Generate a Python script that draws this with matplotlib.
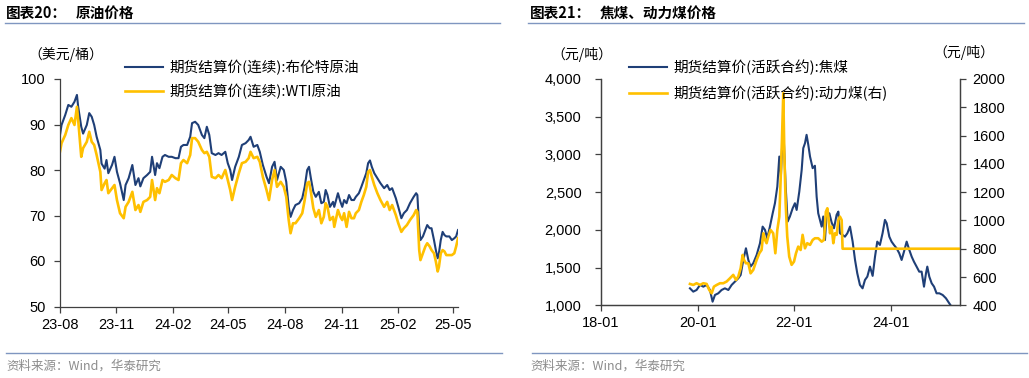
import matplotlib
matplotlib.use("Agg")
import matplotlib.pyplot as plt
import matplotlib.dates as mdates
from matplotlib.ticker import FuncFormatter
import pandas as pd

plt.rcParams['font.family'] = ['Liberation Sans', 'Noto Sans CJK SC', 'DejaVu Sans']
CJK = ['Noto Sans CJK SC', 'Liberation Sans', 'DejaVu Sans']

# ---------------- Left chart: crude oil ----------------
oil_dates = [
    "2023-08-01", "2023-08-04", "2023-08-10", "2023-08-15", "2023-08-20", "2023-08-25", "2023-08-29",
    "2023-08-31", "2023-09-05", "2023-09-08", "2023-09-14", "2023-09-18", "2023-09-22", "2023-09-26",
    "2023-09-30", "2023-10-06", "2023-10-08", "2023-10-13", "2023-10-16", "2023-10-19", "2023-10-25",
    "2023-10-29", "2023-11-02", "2023-11-07", "2023-11-13", "2023-11-16", "2023-11-21", "2023-11-27",
    "2023-12-02", "2023-12-07", "2023-12-10", "2023-12-15", "2023-12-21", "2023-12-26", "2023-12-29",
    "2024-01-03", "2024-01-06", "2024-01-10", "2024-01-15", "2024-01-19", "2024-01-25", "2024-01-30",
    "2024-02-05", "2024-02-10", "2024-02-14", "2024-02-18", "2024-02-24", "2024-02-29",
    "2024-03-03", "2024-03-08", "2024-03-13", "2024-03-19", "2024-03-23", "2024-03-27", "2024-03-31",
    "2024-04-04", "2024-04-10", "2024-04-15", "2024-04-20", "2024-04-26", "2024-04-30", "2024-05-04",
    "2024-05-07", "2024-05-12", "2024-05-18", "2024-05-23", "2024-05-29", "2024-06-03", "2024-06-06",
    "2024-06-11", "2024-06-17", "2024-06-21", "2024-06-26", "2024-07-02", "2024-07-06", "2024-07-11",
    "2024-07-15", "2024-07-19", "2024-07-25", "2024-07-30", "2024-08-03", "2024-08-07", "2024-08-10",
    "2024-08-14", "2024-08-18", "2024-08-24", "2024-08-29", "2024-09-02", "2024-09-06", "2024-09-09",
    "2024-09-12", "2024-09-16", "2024-09-20", "2024-09-25", "2024-09-29", "2024-10-03",
    "2024-10-06", "2024-10-09", "2024-10-13", "2024-10-18", "2024-10-20", "2024-10-26", "2024-10-30",
    "2024-11-02", "2024-11-05", "2024-11-09", "2024-11-13", "2024-11-17", "2024-11-21", "2024-11-24",
    "2024-11-29", "2024-12-03", "2024-12-07", "2024-12-11", "2024-12-14", "2024-12-17", "2024-12-20",
    "2024-12-24", "2024-12-29", "2025-01-03", "2025-01-09", "2025-01-14", "2025-01-18", "2025-01-22",
    "2025-01-28", "2025-02-01", "2025-02-06", "2025-02-10", "2025-02-15", "2025-02-20", "2025-02-26",
    "2025-03-02", "2025-03-04", "2025-03-07", "2025-03-09", "2025-03-13", "2025-03-17", "2025-03-20",
    "2025-03-24", "2025-03-27", "2025-03-31", "2025-04-03", "2025-04-06", "2025-04-08", "2025-04-11",
    "2025-04-14", "2025-04-17", "2025-04-20", "2025-04-25", "2025-04-29", "2025-05-03", "2025-05-06",
    "2025-05-09",
]
brent = [
    87.3, 89.9, 92.1, 94.3, 93.9, 95.0, 96.5,
    93.9, 89.5, 88.0, 89.9, 92.5, 91.7, 89.9,
    87.3, 84.4, 81.4, 80.3, 82.2, 79.3, 81.1,
    82.9, 79.6, 77.1, 73.4, 76.7, 78.2, 81.1,
    76.7, 78.2, 76.4, 78.2, 78.9, 79.6, 82.9,
    78.9, 81.5, 80.4, 82.9, 83.3, 82.9, 82.9,
    82.6, 82.6, 85.1, 85.5, 85.5, 87.3,
    90.3, 90.6, 89.9, 87.7, 87.0, 89.5, 87.7,
    83.7, 83.3, 83.7, 83.3, 84.0, 81.5, 80.0,
    77.8, 80.7, 82.9, 85.5, 85.9, 86.6, 87.3,
    85.1, 85.5, 84.0, 81.1, 78.5, 77.1, 80.7,
    81.8, 77.8, 80.7, 80.0, 77.4, 71.9, 69.7,
    71.2, 72.3, 72.7, 73.8, 76.3, 80.0, 80.7,
    78.2, 75.2, 74.1, 75.2, 72.7, 73.0,
    75.6, 74.5, 71.9, 73.0, 71.9, 74.9, 73.0,
    71.9, 73.4, 72.7, 74.5, 73.4, 73.4, 74.1,
    74.9, 76.3, 77.8, 79.3, 81.5, 82.1, 80.7,
    79.3, 78.2, 77.1, 76.0, 76.7, 75.6, 76.0,
    73.8, 71.9, 69.4, 70.5, 71.2, 72.7, 74.1,
    74.9, 74.5, 67.2, 64.6, 65.4, 66.8, 67.9,
    67.2, 67.2, 64.6, 62.4, 60.6, 61.7, 64.6,
    66.4, 65.7, 65.4, 65.4, 64.6, 65.0, 65.4,
    66.8,
]
wti = [
    83.7, 85.9, 87.7, 89.9, 91.4, 89.9, 93.9,
    91.0, 82.9, 84.8, 86.2, 88.4, 86.2, 85.5,
    83.3, 79.6, 75.6, 77.1, 77.8, 74.9, 76.0,
    76.7, 73.4, 70.5, 69.4, 71.9, 73.0, 75.2,
    71.2, 72.3, 70.8, 73.0, 73.4, 74.1, 77.8,
    73.4, 76.0, 74.9, 77.8, 77.4, 77.8, 78.9,
    78.2, 77.8, 81.5, 82.2, 81.5, 83.3,
    87.0, 87.0, 86.2, 84.4, 83.7, 84.0, 82.9,
    78.5, 78.2, 78.9, 78.2, 80.0, 77.8, 75.6,
    73.4, 76.3, 79.3, 81.5, 81.8, 82.6, 84.0,
    82.6, 82.9, 81.8, 78.5, 75.6, 73.4, 77.8,
    80.0, 76.3, 77.4, 76.3, 74.1, 69.0, 66.1,
    68.3, 68.3, 69.4, 70.5, 73.4, 77.1, 77.4,
    75.2, 71.6, 69.7, 71.2, 68.3, 69.7,
    72.7, 71.9, 69.0, 69.7, 67.5, 71.2, 69.7,
    69.0, 70.5, 67.5, 70.8, 69.4, 69.4, 70.5,
    71.2, 73.0, 74.5, 76.3, 79.6, 80.0, 78.5,
    76.7, 74.9, 73.4, 71.9, 73.0, 71.2, 72.3,
    70.1, 68.3, 66.4, 67.2, 67.9, 69.0, 70.1,
    71.2, 70.8, 62.4, 60.2, 61.7, 63.2, 63.9,
    63.2, 62.4, 61.7, 59.9, 57.7, 58.7, 61.7,
    62.4, 62.1, 61.3, 61.3, 61.3, 61.7, 63.2,
    65.0,
]
oil_xlim = ["2023-08-01", "2025-05-09"]
oil_xticks = ["2023-08-01", "2023-11-01", "2024-02-01", "2024-05-01",
              "2024-08-01", "2024-11-01", "2025-02-01", "2025-05-01"]
oil_xticklabels = ["23-08", "23-11", "24-02", "24-05", "24-08", "24-11", "25-02", "25-05"]
oil_yticks = [50, 60, 70, 80, 90, 100]

# ---------------- Right chart: coal ----------------
coke_dates = [
    "2019-11-04", "2019-11-29", "2019-12-24", "2020-01-19", "2020-02-13", "2020-03-09", "2020-04-03",
    "2020-04-23", "2020-05-11", "2020-06-05", "2020-06-30", "2020-07-25", "2020-08-20", "2020-09-14",
    "2020-10-09", "2020-11-03", "2020-11-21", "2020-12-11", "2020-12-31", "2021-01-18", "2021-02-04",
    "2021-02-24", "2021-03-22", "2021-04-16", "2021-05-06", "2021-05-24", "2021-06-10", "2021-06-30",
    "2021-07-21", "2021-08-07", "2021-08-25", "2021-09-09", "2021-09-21", "2021-10-02", "2021-10-14",
    "2021-10-27", "2021-11-11", "2021-11-28", "2021-12-19", "2022-01-05", "2022-01-18", "2022-02-07",
    "2022-02-25", "2022-03-09", "2022-03-22", "2022-04-03", "2022-04-16", "2022-04-29", "2022-05-19",
    "2022-06-05", "2022-06-18", "2022-06-30", "2022-07-13", "2022-07-26", "2022-08-07", "2022-08-20",
    "2022-09-01", "2022-09-22", "2022-10-09", "2022-10-27", "2022-11-16", "2022-11-29", "2022-12-11",
    "2022-12-31", "2023-01-18", "2023-02-05", "2023-02-25", "2023-03-17", "2023-04-04", "2023-04-21",
    "2023-05-11", "2023-05-31", "2023-06-18", "2023-07-06", "2023-07-26", "2023-08-15", "2023-09-02",
    "2023-09-19", "2023-10-09", "2023-10-29", "2023-11-16", "2023-11-29", "2023-12-19", "2024-01-05",
    "2024-01-23", "2024-02-12", "2024-03-03", "2024-03-21", "2024-04-08", "2024-04-28", "2024-05-18",
    "2024-06-05", "2024-06-22", "2024-07-12", "2024-08-01", "2024-08-19", "2024-09-06", "2024-09-21",
    "2024-10-01", "2024-10-16", "2024-11-03", "2024-11-21", "2024-12-10", "2024-12-31", "2025-01-25",
    "2025-02-19", "2025-03-16", "2025-04-05",
]
coke = [
    1225, 1181, 1203, 1270, 1247, 1270, 1203,
    1048, 1137, 1159, 1203, 1225, 1203, 1270,
    1314, 1358, 1402, 1601, 1756, 1601, 1513,
    1557, 1668, 1822, 2043, 1999, 1888, 2043,
    2220, 2353, 2574, 2972, 2707, 3193, 3149,
    2574, 2110, 2177, 2287, 2353, 2264, 2508,
    2795, 3083, 3149, 3260, 3127, 2972, 2818,
    2850, 2441, 2220, 2132, 2043, 2177, 1866,
    2200, 2220, 2100, 2021, 2200, 2242, 1955,
    1932, 1910, 1955, 2043, 1844, 1601, 1424,
    1270, 1225, 1336, 1380, 1513, 1390, 1645,
    1844, 1800, 1955, 2132, 2088, 1910, 1844,
    1800, 1756, 1690, 1601, 1712, 1844, 1734,
    1645, 1579, 1513, 1446, 1446, 1247, 1424,
    1513, 1380, 1292, 1247, 1159, 1159, 1137,
    1093, 1026, 975,
]
thermal_dates = [
    "2019-11-04", "2019-11-29", "2019-12-24", "2020-01-19", "2020-02-13", "2020-03-09", "2020-03-29",
    "2020-04-16", "2020-05-03", "2020-05-24", "2020-06-18", "2020-07-13", "2020-08-07", "2020-09-01",
    "2020-09-26", "2020-10-17", "2020-11-03", "2020-11-21", "2020-12-06", "2020-12-16", "2020-12-31",
    "2021-01-18", "2021-02-04", "2021-02-24", "2021-03-22", "2021-04-11", "2021-04-28", "2021-05-11",
    "2021-05-24", "2021-06-05", "2021-06-18", "2021-07-05", "2021-07-25", "2021-08-10", "2021-08-25",
    "2021-09-09", "2021-09-19", "2021-09-29", "2021-10-09", "2021-10-17", "2021-10-27", "2021-11-08",
    "2021-11-23", "2021-12-11", "2021-12-29", "2022-01-13", "2022-01-30", "2022-02-17", "2022-03-04",
    "2022-03-22", "2022-04-08", "2022-04-29", "2022-05-19", "2022-06-05", "2022-06-30", "2022-07-26",
    "2022-08-12", "2022-08-27", "2022-09-07", "2022-09-17", "2022-09-27", "2022-10-09", "2022-10-22",
    "2022-11-03", "2022-11-16", "2022-11-29", "2022-12-11", "2022-12-24", "2022-12-31", "2023-01-18",
    "2025-06-05",
]
thermal = [
    551, 544, 556, 544, 556, 551, 508,
    485, 532, 544, 556, 556, 568, 591,
    615, 579, 603, 662, 756, 721, 697,
    697, 626, 650, 721, 768, 791, 909,
    862, 839, 886, 933, 909, 768, 933,
    1027, 1287, 1570, 1900, 1476, 1121, 886,
    744, 686, 709, 768, 815, 791, 898,
    803, 839, 827, 862, 874, 874, 850,
    862, 1062, 1086, 1003, 909, 956, 839,
    909, 898, 1003, 1027, 1003, 800, 800,
    800,
]
coal_xlim = ["2018-01-01", "2025-06-05"]
coal_xticks = ["2018-01-01", "2020-01-01", "2022-01-01", "2024-01-01"]
coal_xticklabels = ["18-01", "20-01", "22-01", "24-01"]
coke_yticks = [1000, 1500, 2000, 2500, 3000, 3500, 4000]
thermal_yticks = [400, 600, 800, 1000, 1200, 1400, 1600, 1800, 2000]

NAVY = '#1F3F77'
GOLD = '#FFC000'
RULE = '#7F96C0'
SPINE = '#404040'

fig = plt.figure(figsize=(10.29, 3.78), dpi=100)
W, H = 1029.0, 378.0

def fx(px):
    return px / W

def fy(py):
    return 1 - py / H

# ---- headers / footers ----
for x0, x1 in [(5, 500), (528, 1024)]:
    fig.add_artist(plt.Line2D([fx(x0), fx(x1)], [fy(23), fy(23)], color=RULE, lw=1.0))
for x0, x1 in [(6, 502), (532, 1027)]:
    fig.add_artist(plt.Line2D([fx(x0), fx(x1)], [fy(352.5), fy(352.5)], color=RULE, lw=1.0))

fig.text(fx(6), fy(13), "图表20：", family=CJK, fontsize=10.5, fontweight='bold', va='center', ha='left')
fig.text(fx(76), fy(13), "原油价格", family=CJK, fontsize=10.5, fontweight='bold', va='center', ha='left')
fig.text(fx(530), fy(13), "图表21：", family=CJK, fontsize=10.5, fontweight='bold', va='center', ha='left')
fig.text(fx(600), fy(13), "焦煤、动力煤价格", family=CJK, fontsize=10.5, fontweight='bold', va='center', ha='left')

fig.text(fx(6), fy(366), "资料来源：Wind，华泰研究", family=CJK, fontsize=9, color='#8C8C8C', va='center', ha='left')
fig.text(fx(530), fy(366), "资料来源：Wind，华泰研究", family=CJK, fontsize=9, color='#8C8C8C', va='center', ha='left')

fig.text(fx(28), fy(54), "（美元/桶）", family=CJK, fontsize=10, va='center', ha='left')
fig.text(fx(551), fy(54), "（元/吨）", family=CJK, fontsize=10, va='center', ha='left')
fig.text(fx(933), fy(52), "（元/吨）", family=CJK, fontsize=10, va='center', ha='left')

# ---- left axes ----
ax1 = fig.add_axes([fx(59.7), fy(306.5), fx(458 - 59.7), (306.5 - 79) / H])
d_oil = pd.to_datetime(oil_dates)
l1, = ax1.plot(d_oil, brent, color=NAVY, lw=1.5, solid_joinstyle='round')
l2, = ax1.plot(d_oil, wti, color=GOLD, lw=1.9, solid_joinstyle='round')
ax1.set_xlim(pd.to_datetime(oil_xlim[0]), pd.to_datetime(oil_xlim[1]))
ax1.set_ylim(50, 100)
ax1.set_yticks(oil_yticks)
ax1.set_xticks(pd.to_datetime(oil_xticks))
ax1.set_xticklabels(oil_xticklabels)
for s in ['top', 'right']:
    ax1.spines[s].set_visible(False)
for s in ['left', 'bottom']:
    ax1.spines[s].set_color(SPINE)
    ax1.spines[s].set_linewidth(0.9)
ax1.tick_params(axis='y', direction='out', length=4.5, width=0.9, color=SPINE, pad=5.5, labelsize=10.5)
ax1.tick_params(axis='x', direction='out', length=4, width=0.9, color=SPINE, pad=4, labelsize=10.5)
ax1.set_facecolor('none')
ax1.legend([l1, l2], ["期货结算价(连续):布伦特原油", "期货结算价(连续):WTI原油"],
           loc='upper left', bbox_to_anchor=(fx(125), fy(60)), bbox_transform=fig.transFigure,
           frameon=False, prop={'family': CJK, 'size': 10.5}, handlelength=2.6, handletextpad=0.45,
           labelspacing=0.6, borderpad=0, borderaxespad=0)

# ---- right axes ----
ax2 = fig.add_axes([fx(601), fy(305.3), fx(960 - 601), (305.3 - 79) / H])
ax3 = ax2.twinx()
d_coke = pd.to_datetime(coke_dates)
d_th = pd.to_datetime(thermal_dates)
l3, = ax2.plot(d_coke, coke, color=NAVY, lw=1.5, solid_joinstyle='round')
l4, = ax3.plot(d_th, thermal, color=GOLD, lw=1.9, solid_joinstyle='round')
ax2.set_xlim(pd.to_datetime(coal_xlim[0]), pd.to_datetime(coal_xlim[1]))
ax2.set_ylim(1000, 4000)
ax3.set_ylim(400, 2000)
ax2.set_yticks(coke_yticks)
ax3.set_yticks(thermal_yticks)
ax2.yaxis.set_major_formatter(FuncFormatter(lambda v, p: f"{int(v):,}"))
ax3.yaxis.set_major_formatter(FuncFormatter(lambda v, p: f"{int(v)}"))
ax2.set_xticks(pd.to_datetime(coal_xticks))
ax2.set_xticklabels(coal_xticklabels)
for a in (ax2, ax3):
    a.spines['top'].set_visible(False)
    for s in ['left', 'right', 'bottom']:
        a.spines[s].set_color(SPINE)
        a.spines[s].set_linewidth(0.9)
ax2.tick_params(axis='y', direction='out', length=4, width=0.9, color=SPINE, pad=10, labelsize=10.5)
ax3.tick_params(axis='y', direction='out', length=4, width=0.9, color=SPINE, pad=5, labelsize=10.5)
ax2.tick_params(axis='x', direction='out', length=4, width=0.9, color=SPINE, pad=4, labelsize=10.5)
ax3.legend([l3, l4], ["期货结算价(活跃合约):焦煤", "期货结算价(活跃合约):动力煤(右)"],
           loc='upper left', bbox_to_anchor=(fx(629), fy(60)), bbox_transform=fig.transFigure,
           frameon=False, prop={'family': CJK, 'size': 10.5}, handlelength=2.6, handletextpad=0.45,
           labelspacing=0.7, borderpad=0, borderaxespad=0)

fig.savefig("out.png", dpi=100, facecolor='white')
